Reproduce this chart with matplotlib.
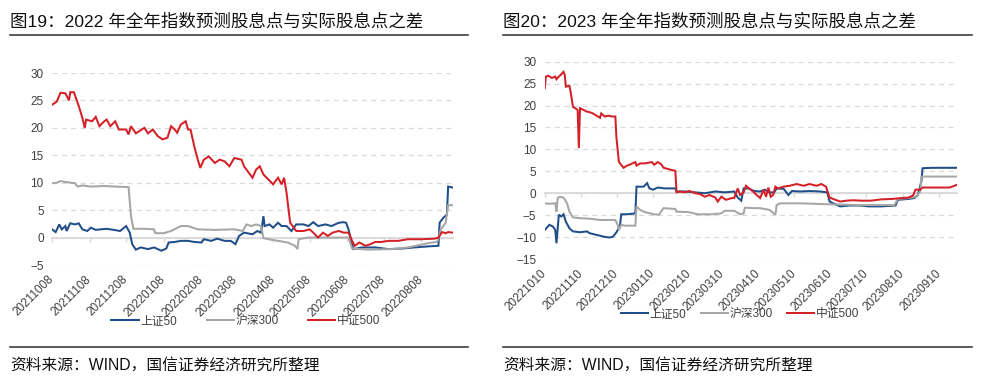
import matplotlib
matplotlib.use("Agg")
import matplotlib.pyplot as plt
from matplotlib.lines import Line2D
import pandas as pd

plt.rcParams['font.family'] = ['Liberation Sans', 'Noto Sans CJK SC', 'DejaVu Sans']

# ---------------- data: panel 1 (2022) ----------------
title_left = "图19：2022 年全年指数预测股息点与实际股息点之差"
title_right = "图20：2023 年全年指数预测股息点与实际股息点之差"
source_text = "资料来源：WIND，国信证券经济研究所整理"
series_names = ["上证50", "沪深300", "中证500"]

l_red_dates = ["2021-10-08", "2021-10-12", "2021-10-15", "2021-10-19", "2021-10-22", "2021-10-23",
               "2021-10-26", "2021-10-30", "2021-11-02", "2021-11-04", "2021-11-05", "2021-11-10",
               "2021-11-13", "2021-11-16", "2021-11-20", "2021-11-22", "2021-11-25", "2021-11-29",
               "2021-12-02", "2021-12-08", "2021-12-10", "2021-12-12", "2021-12-16", "2021-12-23",
               "2021-12-26", "2021-12-30", "2022-01-03", "2022-01-07", "2022-01-11", "2022-01-14",
               "2022-01-17", "2022-01-19", "2022-01-22", "2022-01-26", "2022-01-28", "2022-01-30",
               "2022-02-02", "2022-02-05", "2022-02-07", "2022-02-10", "2022-02-14", "2022-02-19",
               "2022-02-23", "2022-02-27", "2022-03-03", "2022-03-07", "2022-03-13", "2022-03-15",
               "2022-03-17", "2022-03-22", "2022-03-25", "2022-03-28", "2022-03-31", "2022-04-04",
               "2022-04-08", "2022-04-12", "2022-04-15", "2022-04-17", "2022-04-19", "2022-04-22",
               "2022-04-24", "2022-04-27", "2022-05-03", "2022-05-08", "2022-05-11", "2022-05-15",
               "2022-05-19", "2022-05-23", "2022-05-27", "2022-06-01", "2022-06-05", "2022-06-09",
               "2022-06-12", "2022-06-14", "2022-06-18", "2022-06-23", "2022-06-27", "2022-07-01",
               "2022-07-06", "2022-07-12", "2022-07-20", "2022-07-28", "2022-08-08", "2022-08-19",
               "2022-08-22", "2022-08-25", "2022-08-28", "2022-08-30", "2022-09-03"]
l_red_vals = [24.2, 24.8, 26.4, 26.3, 25.0, 26.5, 26.5, 24.0, 21.8, 20.0, 21.5, 21.2,
              22.0, 20.3, 21.2, 21.5, 20.3, 21.2, 19.7, 19.7, 18.8, 20.3, 19.0, 20.0,
              19.0, 19.7, 18.5, 17.9, 18.2, 20.3, 19.7, 19.1, 20.6, 21.2, 19.7, 19.7,
              16.7, 14.2, 12.7, 14.2, 14.8, 13.6, 14.2, 13.9, 13.0, 14.5, 14.2, 13.0,
              12.4, 10.9, 12.4, 13.0, 11.5, 10.6, 9.7, 10.9, 9.7, 10.9, 8.2, 2.7,
              2.1, 1.2, 1.2, 1.5, 0.9, 0.0, 0.9, 0.3, 0.9, 1.2, 0.9, 0.9,
              -0.6, -1.5, -0.9, -1.5, -1.2, -0.8, -0.8, -0.6, -0.6, -0.3, -0.3, -0.2,
              0.0, 1.0, 0.8, 1.0, 0.9]

l_blue_dates = ["2021-10-08", "2021-10-11", "2021-10-14", "2021-10-16", "2021-10-19", "2021-10-20",
                "2021-10-23", "2021-10-27", "2021-10-30", "2021-11-02", "2021-11-06", "2021-11-09",
                "2021-11-13", "2021-11-17", "2021-11-22", "2021-11-28", "2021-12-03", "2021-12-08",
                "2021-12-11", "2021-12-13", "2021-12-16", "2021-12-20", "2021-12-26", "2021-12-31",
                "2022-01-06", "2022-01-10", "2022-01-12", "2022-01-17", "2022-01-22", "2022-01-28",
                "2022-02-02", "2022-02-08", "2022-02-10", "2022-02-16", "2022-02-21", "2022-02-27",
                "2022-03-04", "2022-03-08", "2022-03-11", "2022-03-15", "2022-03-22", "2022-03-26",
                "2022-03-29", "2022-03-31", "2022-04-01", "2022-04-05", "2022-04-08", "2022-04-12",
                "2022-04-15", "2022-04-19", "2022-04-23", "2022-04-27", "2022-05-03", "2022-05-07",
                "2022-05-11", "2022-05-15", "2022-05-21", "2022-05-26", "2022-06-01", "2022-06-05",
                "2022-06-07", "2022-06-09", "2022-06-12", "2022-06-13", "2022-06-20", "2022-07-01",
                "2022-07-12", "2022-07-23", "2022-08-02", "2022-08-14", "2022-08-22", "2022-08-23",
                "2022-08-26", "2022-08-29", "2022-08-30", "2022-09-03"]
l_blue_vals = [1.5, 1.0, 2.4, 1.5, 2.1, 1.2, 2.6, 2.4, 2.6, 1.5, 1.2, 1.8,
               1.4, 1.5, 1.6, 1.4, 1.2, 2.1, 0.9, -1.2, -2.2, -1.8, -2.1, -1.8,
               -2.4, -2.0, -0.9, -0.8, -0.6, -0.6, -0.8, -0.9, -0.3, -0.6, -0.2, -0.6,
               -0.6, -1.2, 0.3, 0.9, 0.6, 1.2, 0.9, 3.9, 2.1, 2.4, 1.8, 2.7,
               2.1, 2.1, 1.2, 2.4, 2.4, 2.1, 2.8, 2.1, 2.4, 2.1, 2.7, 2.8,
               2.7, 1.5, -1.2, -2.1, -1.8, -1.8, -2.1, -2.0, -1.8, -1.6, -1.5, 2.7,
               3.6, 4.2, 9.3, 9.1]

l_gray_dates = ["2021-10-08", "2021-10-12", "2021-10-15", "2021-10-20", "2021-10-27", "2021-10-29",
                "2021-11-02", "2021-11-09", "2021-11-20", "2021-11-28", "2021-12-10", "2021-12-12",
                "2021-12-14", "2021-12-23", "2021-12-31", "2022-01-01", "2022-01-08", "2022-01-14",
                "2022-01-22", "2022-01-28", "2022-02-05", "2022-02-19", "2022-03-07", "2022-03-14",
                "2022-03-17", "2022-03-21", "2022-03-25", "2022-03-29", "2022-03-31", "2022-04-04",
                "2022-04-12", "2022-04-20", "2022-04-26", "2022-04-28", "2022-04-29", "2022-05-07",
                "2022-06-09", "2022-06-12", "2022-06-25", "2022-07-15", "2022-07-28", "2022-08-14",
                "2022-08-21", "2022-08-24", "2022-08-28", "2022-08-30", "2022-09-03"]
l_gray_vals = [9.9, 10.0, 10.3, 10.1, 9.9, 9.3, 9.5, 9.3, 9.4, 9.3, 9.2, 3.9,
               1.6, 1.6, 1.5, 0.8, 0.8, 1.2, 2.1, 2.1, 1.5, 1.4, 1.5, 1.2,
               2.4, 2.1, 2.4, 2.1, -0.1, -0.3, -0.6, -0.9, -1.5, -2.1, -0.3, 0.0,
               0.0, -2.0, -2.2, -2.1, -1.8, -1.0, -0.8, 1.5, 2.7, 5.9, 5.9]

l_ticks = ["2021-10-08", "2021-11-08", "2021-12-08", "2022-01-08", "2022-02-08", "2022-03-08",
           "2022-04-08", "2022-05-08", "2022-06-08", "2022-07-08", "2022-08-08"]
l_yticks = [-5, 0, 5, 10, 15, 20, 25, 30]

# ---------------- data: panel 2 (2023) ----------------
r_red_dates = ["2022-10-10", "2022-10-11", "2022-10-13", "2022-10-16", "2022-10-19", "2022-10-20",
               "2022-10-22", "2022-10-24", "2022-10-26", "2022-10-27", "2022-10-28", "2022-10-31",
               "2022-11-01", "2022-11-03", "2022-11-06", "2022-11-07", "2022-11-08", "2022-11-09",
               "2022-11-12", "2022-11-15", "2022-11-17", "2022-11-20", "2022-11-23", "2022-11-26",
               "2022-11-27", "2022-11-30", "2022-12-03", "2022-12-06", "2022-12-09", "2022-12-10",
               "2022-12-12", "2022-12-13", "2022-12-16", "2022-12-19", "2022-12-21", "2022-12-26",
               "2022-12-27", "2022-12-30", "2023-01-03", "2023-01-09", "2023-01-11", "2023-01-14",
               "2023-01-17", "2023-01-19", "2023-01-23", "2023-01-29", "2023-01-30", "2023-02-02",
               "2023-02-06", "2023-02-10", "2023-02-15", "2023-02-19", "2023-02-23", "2023-02-27",
               "2023-03-04", "2023-03-06", "2023-03-09", "2023-03-13", "2023-03-18", "2023-03-20",
               "2023-03-23", "2023-03-25", "2023-03-28", "2023-03-30", "2023-04-03", "2023-04-05",
               "2023-04-08", "2023-04-11", "2023-04-14", "2023-04-16", "2023-04-18", "2023-04-20",
               "2023-04-22", "2023-04-24", "2023-04-26", "2023-05-01", "2023-05-06", "2023-05-12",
               "2023-05-18", "2023-05-23", "2023-05-29", "2023-06-02", "2023-06-06", "2023-06-09",
               "2023-06-12", "2023-06-18", "2023-06-23", "2023-06-29", "2023-07-06", "2023-07-14",
               "2023-07-23", "2023-08-01", "2023-08-09", "2023-08-15", "2023-08-19", "2023-08-21",
               "2023-08-25", "2023-08-27", "2023-09-04", "2023-09-12", "2023-09-19", "2023-09-23",
               "2023-09-25"]
r_red_vals = [23.9, 26.6, 26.8, 26.3, 26.6, 26.0, 26.6, 27.1, 27.7, 27.0, 24.3, 24.5,
              23.2, 19.7, 19.2, 19.0, 10.3, 19.4, 19.0, 18.6, 18.5, 18.2, 17.7, 17.2,
              18.2, 17.5, 17.7, 17.5, 17.5, 12.5, 7.2, 6.8, 5.8, 6.3, 6.5, 7.1,
              6.3, 6.8, 6.8, 7.1, 6.5, 7.1, 6.6, 5.8, 5.5, 5.1, 0.2, 0.4,
              0.2, 0.5, 0.0, -0.2, -0.8, -0.4, -1.0, -1.9, -0.8, -1.5, -1.1, -1.1,
              1.1, -0.4, 0.2, 1.7, 0.8, 0.4, -0.4, -1.1, 0.8, -0.8, 1.3, -0.8,
              -0.4, 1.5, 1.1, 1.5, 1.7, 2.1, 1.7, 2.1, 1.7, 2.1, 1.5, -1.0,
              -1.3, -1.9, -1.7, -1.6, -1.7, -1.7, -1.4, -1.3, -1.1, -1.0, -0.5, 0.8,
              0.8, 1.3, 1.3, 1.3, 1.3, 1.7, 1.9]

r_blue_dates = ["2022-10-10", "2022-10-12", "2022-10-14", "2022-10-17", "2022-10-19", "2022-10-20",
                "2022-10-22", "2022-10-24", "2022-10-26", "2022-10-28", "2022-10-31", "2022-11-03",
                "2022-11-09", "2022-11-15", "2022-11-17", "2022-11-23", "2022-11-29", "2022-12-04",
                "2022-12-07", "2022-12-10", "2022-12-13", "2022-12-14", "2022-12-19", "2022-12-26",
                "2022-12-27", "2023-01-02", "2023-01-05", "2023-01-07", "2023-01-10", "2023-01-14",
                "2023-01-20", "2023-01-29", "2023-01-30", "2023-02-06", "2023-02-15", "2023-02-23",
                "2023-03-04", "2023-03-12", "2023-03-20", "2023-03-23", "2023-03-26", "2023-03-28",
                "2023-04-01", "2023-04-06", "2023-04-11", "2023-04-15", "2023-04-19", "2023-04-23",
                "2023-04-25", "2023-05-01", "2023-05-05", "2023-05-08", "2023-05-15", "2023-05-23",
                "2023-06-01", "2023-06-07", "2023-06-09", "2023-06-12", "2023-06-18", "2023-06-26",
                "2023-07-05", "2023-07-12", "2023-07-23", "2023-08-04", "2023-08-06", "2023-08-15",
                "2023-08-20", "2023-08-23", "2023-08-26", "2023-08-27", "2023-09-04", "2023-09-12",
                "2023-09-25"]
r_blue_vals = [-8.4, -7.8, -7.2, -7.6, -8.4, -11.4, -4.9, -5.3, -4.8, -6.5, -8.0, -8.7,
               -8.9, -8.7, -9.1, -9.5, -9.9, -10.1, -9.9, -8.9, -7.4, -4.8, -4.8, -4.6,
               1.5, 1.5, 2.3, 1.1, 0.8, 1.3, 1.1, 1.1, 0.4, 0.4, 0.2, 0.0,
               0.4, 0.2, 0.4, -1.0, -1.7, 1.1, 1.1, 0.5, 0.4, 0.8, 0.2, 0.2,
               1.1, 1.0, -0.4, 0.5, 0.4, 0.5, 0.4, 0.2, -1.9, -2.3, -3.0, -2.8,
               -2.8, -3.0, -3.0, -2.8, -1.5, -1.3, -1.1, -0.4, 2.7, 5.7, 5.8, 5.8,
               5.8]

r_gray_dates = ["2022-10-10", "2022-10-14", "2022-10-19", "2022-10-20", "2022-10-21", "2022-10-23",
                "2022-10-26", "2022-10-29", "2022-10-31", "2022-11-03", "2022-11-09", "2022-11-17",
                "2022-11-26", "2022-12-04", "2022-12-09", "2022-12-11", "2022-12-12", "2022-12-14",
                "2022-12-17", "2022-12-26", "2022-12-27", "2022-12-30", "2023-01-03", "2023-01-11",
                "2023-01-15", "2023-01-19", "2023-01-29", "2023-01-30", "2023-02-09", "2023-02-17",
                "2023-03-01", "2023-03-09", "2023-03-12", "2023-03-20", "2023-03-25", "2023-03-28",
                "2023-03-29", "2023-04-06", "2023-04-11", "2023-04-19", "2023-04-24", "2023-04-25",
                "2023-04-28", "2023-05-15", "2023-06-06", "2023-07-05", "2023-07-17", "2023-08-03",
                "2023-08-06", "2023-08-15", "2023-08-22", "2023-08-25", "2023-08-26", "2023-09-04",
                "2023-09-25"]
r_gray_vals = [-2.3, -2.4, -2.3, -4.2, -1.1, -0.8, -1.0, -2.3, -4.2, -5.5, -5.7, -5.8,
               -6.1, -6.1, -6.1, -7.2, -8.4, -7.2, -7.4, -7.4, -3.0, -3.8, -4.3, -4.8,
               -4.9, -3.4, -3.6, -4.2, -4.3, -4.8, -4.8, -4.6, -4.0, -4.0, -4.8, -4.6,
               -3.3, -3.4, -3.4, -3.8, -4.9, -2.7, -2.3, -2.3, -2.5, -2.7, -2.7, -2.7,
               -1.3, -1.1, -0.8, 0.4, 3.8, 3.8, 3.8]

r_ticks = ["2022-10-10", "2022-11-10", "2022-12-10", "2023-01-10", "2023-02-10", "2023-03-10",
           "2023-04-10", "2023-05-10", "2023-06-10", "2023-07-10", "2023-08-10", "2023-09-10"]
r_yticks = [-15, -10, -5, 0, 5, 10, 15, 20, 25, 30]

# ---------------- style ----------------
C_BLUE = "#1f4e88"
C_GRAY = "#a6a6a6"
C_RED = "#d42027"
GRID_C = "#d9d9d9"
TXT_C = "#404040"
W, H = 988, 380

fig = plt.figure(figsize=(W / 100, H / 100), dpi=100)


def px_rect(x0, x1, ytop, ybot):
    return [x0 / W, 1 - ybot / H, (x1 - x0) / W, (ybot - ytop) / H]


def draw_panel(rect, blue, gray, red, ticks, yticks, title, title_x, rule_x1,
               legend_center, col_spacing):
    ax = fig.add_axes(rect)
    lines = []
    for (d, v), c in zip([blue, gray, red], [C_BLUE, C_GRAY, C_RED]):
        ln, = ax.plot(pd.to_datetime(d), v, color=c, lw=1.45, zorder=3,
                      solid_joinstyle='miter')
        lines.append(ln)
    all_dates = pd.to_datetime(blue[0] + gray[0] + red[0])
    ax.set_xlim(all_dates.min(), all_dates.max())
    ax.set_ylim(min(yticks), max(yticks))
    ax.set_yticks(yticks)
    ax.yaxis.grid(True, color=GRID_C, linestyle=(0, (4, 3.5)), lw=0.9)
    ax.set_axisbelow(True)
    for s in ax.spines.values():
        s.set_visible(False)
    tk = pd.to_datetime(ticks)
    ax.set_xticks(tk)
    ax.set_xticklabels([t.strftime("%Y%m%d") for t in tk], rotation=45,
                       ha='right', va='center', rotation_mode='anchor')
    ax.tick_params(axis='x', length=0, pad=9, labelsize=8.5, labelcolor=TXT_C)
    ax.tick_params(axis='y', length=0, pad=6, labelsize=8.5, labelcolor=TXT_C)
    # zero axis line with small ticks
    zero_frac = (0 - min(yticks)) / (max(yticks) - min(yticks))
    sec = ax.secondary_xaxis(zero_frac)
    sec.set_xticks(tk)
    sec.tick_params(length=3, width=1, color=GRID_C, labelbottom=False, labeltop=False)
    for s in sec.spines.values():
        s.set_color(GRID_C)
        s.set_linewidth(1.3)
    # title and rules
    fig.text(title_x / W, 1 - 21 / H, title, fontsize=12.6, color="#111111",
             ha='left', va='center')
    fig.add_artist(Line2D([title_x / W, rule_x1 / W], [1 - 34.5 / H] * 2,
                          color="#404040", lw=1.2))
    fig.add_artist(Line2D([title_x / W, rule_x1 / W], [1 - 346.7 / H] * 2,
                          color="#404040", lw=1.2))
    fig.text(title_x / W, 1 - 365 / H, source_text, fontsize=11.3, color="#111111",
             ha='left', va='center')
    fig.legend(lines, series_names, loc='center',
               bbox_to_anchor=(legend_center[0] / W, 1 - legend_center[1] / H),
               ncol=3, frameon=False, fontsize=8.5, handlelength=2.3,
               handletextpad=0.15, columnspacing=col_spacing, borderpad=0,
               labelcolor=TXT_C)
    return ax


draw_panel(px_rect(52, 453, 73, 265),
           (l_blue_dates, l_blue_vals), (l_gray_dates, l_gray_vals), (l_red_dates, l_red_vals),
           l_ticks, l_yticks, title_left, 10, 468, (246, 321), 2.5)
draw_panel(px_rect(544.7, 956.7, 61.7, 259),
           (r_blue_dates, r_blue_vals), (r_gray_dates, r_gray_vals), (r_red_dates, r_red_vals),
           r_ticks, r_yticks, title_right, 503, 972, (740, 314), 1.2)

fig.savefig("out.png", dpi=100)
